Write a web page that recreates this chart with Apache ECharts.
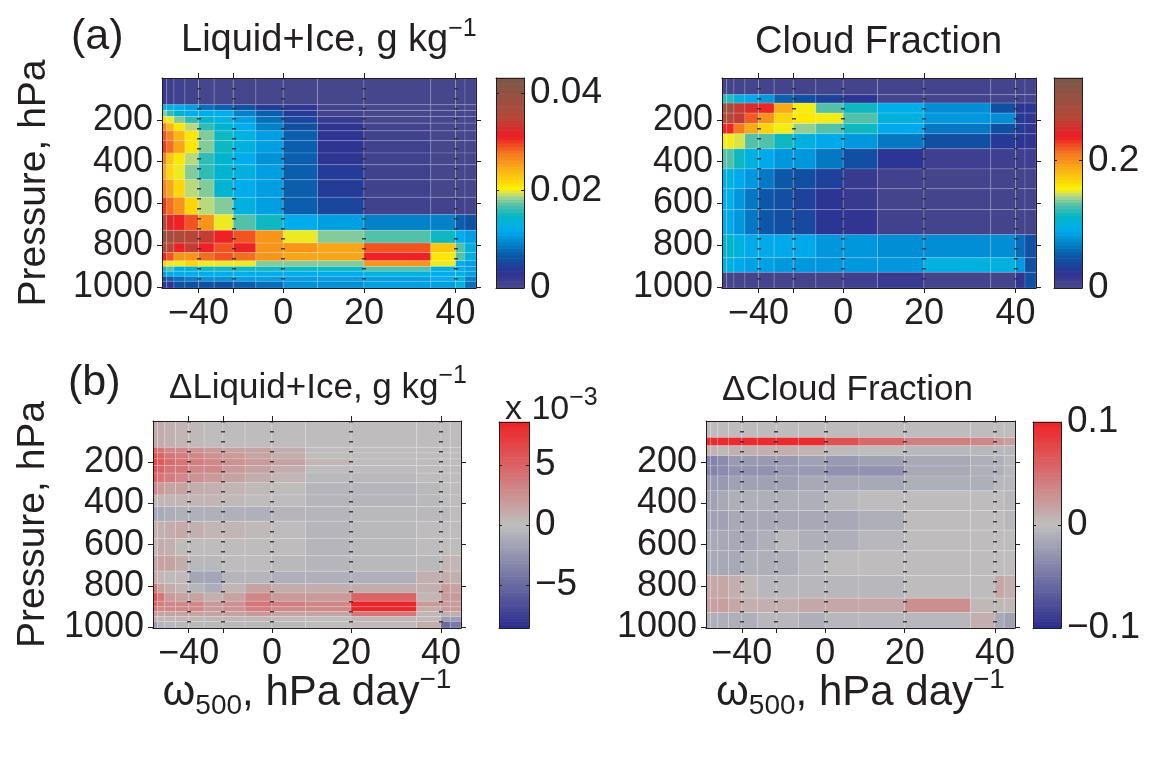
<!DOCTYPE html>
<html>
<head>
<meta charset="utf-8">
<script src="https://cdn.jsdelivr.net/npm/echarts@6/dist/echarts.min.js"></script>
<style>
  html, body { margin: 0; background: #fff; }
  #chart { width: 1151px; height: 759px; }
</style>
</head>
<body>
<div id="chart"></div>
<script>
// omega500 bin edges (hPa/day) and where each edge sits along the x axis (0-100, frequency weighted)
const omegaEdges = [-80, -70, -60, -50, -40, -30, -20, -10, 0, 10, 20, 30, 40, 50, 60];
const omegaEdgePos = [0, 1.5, 3.8, 7.3, 11.6, 16.6, 22.7, 29.9, 38.6, 49.5, 64.3, 85.6, 93.5, 96.5, 100];
const omegaTicks = [-40, -20, 0, 20, 40];
const omegaTickLabels = ['−40', '', '0', '20', '40'];
const pressureTicks = [200, 400, 600, 800, 1000];

// pressure edges (hPa) of the two vertical grids
const lwcLevels = [0, 128, 155, 184, 216, 253, 300, 359, 415, 487, 571, 654, 729, 790, 835, 875, 902, 925, 949, 973, 1005];
const cfLevels = [0, 80, 120, 168, 218, 267, 339, 435, 530, 630, 750, 860, 930, 1005];

// liquid+ice, g/kg (rows top -> bottom, columns follow omegaEdges)
const lwc = [
  [0.002, 0.0015, 0.001, 0.0008, 0.0005, 0.0005, 0.0005, 0.0005, 0.0005, 0.0005, 0.0005, 0.0005, 0.0005, 0.0005],
  [0.013, 0.013, 0.012, 0.011, 0.008, 0.007, 0.006, 0.004, 0.003, 0.001, 0.0005, 0.0005, 0.0005, 0.0005],
  [0.018, 0.016, 0.014, 0.012, 0.012, 0.012, 0.009, 0.007, 0.004, 0.001, 0.0005, 0.0005, 0.0005, 0.0005],
  [0.022, 0.020, 0.018, 0.016, 0.014, 0.013, 0.011, 0.008, 0.005, 0.002, 0.0005, 0.0005, 0.0005, 0.0005],
  [0.027, 0.024, 0.021, 0.019, 0.016, 0.014, 0.012, 0.009, 0.006, 0.003, 0.0008, 0.0005, 0.0005, 0.0005],
  [0.029, 0.027, 0.024, 0.021, 0.018, 0.015, 0.013, 0.011, 0.007, 0.003, 0.001, 0.0005, 0.0005, 0.0005],
  [0.030, 0.028, 0.025, 0.021, 0.018, 0.015, 0.013, 0.011, 0.007, 0.003, 0.001, 0.0005, 0.0005, 0.0005],
  [0.027, 0.023, 0.021, 0.019, 0.016, 0.014, 0.012, 0.010, 0.007, 0.003, 0.001, 0.0005, 0.0005, 0.0005],
  [0.025, 0.022, 0.020, 0.018, 0.016, 0.014, 0.013, 0.011, 0.007, 0.004, 0.001, 0.0005, 0.0005, 0.0005],
  [0.027, 0.025, 0.022, 0.019, 0.018, 0.014, 0.012, 0.011, 0.007, 0.004, 0.001, 0.0005, 0.0005, 0.0005],
  [0.030, 0.028, 0.026, 0.022, 0.019, 0.018, 0.013, 0.011, 0.007, 0.005, 0.001, 0.0008, 0.0008, 0.0008],
  [0.036, 0.032, 0.031, 0.029, 0.026, 0.020, 0.017, 0.015, 0.012, 0.011, 0.009, 0.009, 0.007, 0.006],
  [0.040, 0.037, 0.036, 0.035, 0.034, 0.031, 0.029, 0.026, 0.020, 0.018, 0.017, 0.015, 0.012, 0.011],
  [0.036, 0.035, 0.031, 0.034, 0.031, 0.029, 0.031, 0.026, 0.026, 0.025, 0.029, 0.023, 0.017, 0.013],
  [0.031, 0.029, 0.026, 0.026, 0.028, 0.029, 0.028, 0.026, 0.025, 0.025, 0.031, 0.021, 0.017, 0.013],
  [0.022, 0.020, 0.020, 0.022, 0.020, 0.020, 0.020, 0.018, 0.018, 0.018, 0.026, 0.020, 0.012, 0.011],
  [0.015, 0.017, 0.013, 0.014, 0.015, 0.015, 0.015, 0.015, 0.015, 0.015, 0.017, 0.013, 0.012, 0.011],
  [0.011, 0.012, 0.012, 0.012, 0.012, 0.012, 0.012, 0.012, 0.012, 0.012, 0.013, 0.012, 0.013, 0.011],
  [0.006, 0.007, 0.008, 0.009, 0.010, 0.010, 0.011, 0.011, 0.011, 0.011, 0.011, 0.012, 0.013, 0.009],
  [0.003, 0.003, 0.006, 0.006, 0.006, 0.006, 0.007, 0.008, 0.010, 0.010, 0.011, 0.011, 0.013, 0.008],
];

// cloud fraction
const cf = [
  [0.005, 0.005, 0.005, 0.005, 0.005, 0.005, 0.005, 0.005, 0.005, 0.005, 0.005, 0.005, 0.005, 0.005],
  [0.12, 0.12, 0.10, 0.09, 0.08, 0.055, 0.045, 0.035, 0.025, 0.005, 0.005, 0.005, 0.005, 0.005],
  [0.29, 0.29, 0.26, 0.25, 0.235, 0.19, 0.155, 0.13, 0.115, 0.095, 0.075, 0.045, 0.025, 0.025],
  [0.27, 0.27, 0.26, 0.22, 0.20, 0.17, 0.16, 0.155, 0.13, 0.10, 0.08, 0.075, 0.03, 0.02],
  [0.235, 0.235, 0.21, 0.19, 0.17, 0.155, 0.14, 0.13, 0.115, 0.09, 0.065, 0.045, 0.03, 0.02],
  [0.155, 0.155, 0.15, 0.13, 0.13, 0.115, 0.10, 0.09, 0.08, 0.065, 0.045, 0.03, 0.025, 0.02],
  [0.13, 0.13, 0.115, 0.10, 0.09, 0.08, 0.08, 0.065, 0.045, 0.025, 0.01, 0.01, 0.01, 0.01],
  [0.10, 0.10, 0.09, 0.08, 0.065, 0.05, 0.045, 0.035, 0.015, 0.008, 0.005, 0.005, 0.005, 0.005],
  [0.095, 0.095, 0.08, 0.065, 0.05, 0.045, 0.035, 0.025, 0.015, 0.005, 0.005, 0.005, 0.005, 0.005],
  [0.09, 0.09, 0.08, 0.065, 0.05, 0.045, 0.04, 0.025, 0.02, 0.008, 0.005, 0.005, 0.005, 0.005],
  [0.11, 0.11, 0.10, 0.09, 0.09, 0.09, 0.09, 0.08, 0.08, 0.075, 0.075, 0.075, 0.06, 0.045],
  [0.10, 0.10, 0.09, 0.085, 0.085, 0.08, 0.08, 0.08, 0.08, 0.08, 0.10, 0.10, 0.08, 0.045],
  [0.005, 0.005, 0.005, 0.005, 0.005, 0.005, 0.005, 0.005, 0.01, 0.015, 0.005, 0.005, 0.02, 0.045],
];

// change in liquid+ice, g/kg
const dLwc = [
  [0.001, 0.001, 0.0008, 0.0005, 0.0003, 0, 0, 0, 0, 0, 0, 0, 0, 0],
  [0.005, 0.004, 0.003, 0.003, 0.0025, 0.002, 0.0015, 0.0015, 0.001, 0, 0, 0, 0, 0],
  [0.006, 0.005, 0.004, 0.0035, 0.003, 0.0025, 0.002, 0.0015, 0.001, 0, 0, 0, 0, 0],
  [0.0065, 0.0055, 0.0045, 0.004, 0.0035, 0.003, 0.0025, 0.002, 0.0015, 0.0005, 0, 0, 0, 0],
  [0.006, 0.005, 0.004, 0.004, 0.003, 0.003, 0.002, 0.0015, 0.001, 0, 0, 0, 0, 0],
  [0.005, 0.004, 0.0035, 0.003, 0.0025, 0.002, 0.0015, 0.001, 0.0005, -0.0003, -0.0003, 0, 0, 0],
  [0.003, 0.002, 0.0015, 0.0015, 0.001, 0.0008, 0.0005, 0.0003, 0, -0.0005, -0.0005, -0.0003, 0, 0],
  [0.0005, 0.0005, 0.0005, 0.0005, 0.0005, 0.0005, 0.0003, 0, 0, -0.0005, -0.0005, -0.0003, 0, 0],
  [-0.0015, -0.0012, -0.001, -0.0008, -0.0008, -0.0008, -0.0008, -0.0008, -0.0005, -0.0005, -0.0003, -0.0003, -0.0003, 0],
  [0.0008, 0.0008, 0.001, 0.0012, 0.0008, 0.0005, 0.0005, 0.0003, 0, -0.0005, -0.0003, 0, 0, 0],
  [0.0005, 0.001, 0.0008, 0.0002, 0, 0, 0, 0, 0, -0.0005, -0.0003, 0, 0, 0],
  [0.0015, 0.0015, 0.0015, 0.001, -0.0003, -0.0003, 0, 0, -0.0003, -0.0005, -0.0003, -0.0003, 0.0005, 0.0005],
  [0.001, 0.0005, 0.0003, 0.0003, -0.0015, -0.0015, -0.0005, -0.0005, -0.0008, -0.0008, -0.0008, 0.0008, 0.001, 0.0008],
  [0.004, 0.0015, 0.001, 0.0005, -0.0005, -0.001, 0.0005, 0.0015, 0.001, 0.001, 0.001, 0.0008, 0.002, 0.0015],
  [0.006, 0.004, 0.002, 0.0015, 0.0015, 0.0008, 0.0015, 0.003, 0.002, 0.002, 0.005, 0.0005, 0.002, 0.002],
  [0.005, 0.0035, 0.003, 0.003, 0.003, 0.002, 0.0025, 0.004, 0.0035, 0.003, 0.0085, 0.002, 0.002, 0.002],
  [0.004, 0.003, 0.003, 0.003, 0.003, 0.002, 0.0025, 0.0035, 0.003, 0.003, 0.0085, 0.001, 0.002, 0.002],
  [0.002, 0.0015, 0.0015, 0.0015, 0.0015, 0.0015, 0.0015, 0.002, 0.0015, 0.0015, 0.004, 0.0005, 0.001, 0.001],
  [0.0008, 0.0005, 0.0005, 0.0005, 0.0005, 0.0005, 0.0005, 0.0005, 0.0003, 0, 0.0005, 0.0003, -0.002, -0.002],
  [-0.002, -0.0005, -0.0003, -0.0003, -0.0003, -0.0003, -0.0003, -0.0003, -0.0003, 0, 0.0003, 0.001, -0.005, -0.004],
];

// change in cloud fraction
const dCf = [
  [0, 0, 0, 0, 0, 0, 0, 0, 0, 0, 0, 0, 0, 0],
  [0.095, 0.095, 0.095, 0.095, 0.095, 0.095, 0.095, 0.095, 0.07, 0.055, 0.04, 0.035, 0.025, 0.02],
  [0.008, 0.008, 0.005, 0.01, 0.01, 0.01, 0.01, 0.008, 0.003, 0, -0.005, -0.005, -0.005, -0.005],
  [-0.04, -0.04, -0.035, -0.025, -0.025, -0.025, -0.025, -0.02, -0.025, -0.02, -0.015, -0.01, -0.01, -0.005],
  [-0.04, -0.04, -0.035, -0.03, -0.03, -0.03, -0.025, -0.025, -0.03, -0.03, -0.015, -0.01, -0.01, -0.005],
  [-0.025, -0.025, -0.025, -0.02, -0.02, -0.02, -0.02, -0.015, -0.015, -0.015, -0.01, -0.01, -0.005, -0.005],
  [-0.02, -0.02, -0.015, -0.01, -0.01, -0.01, -0.01, -0.01, -0.005, 0, 0, 0, 0, -0.005],
  [-0.02, -0.02, -0.02, -0.015, -0.015, -0.015, -0.015, -0.015, -0.015, -0.01, 0, 0, 0, -0.005],
  [-0.015, -0.015, -0.015, -0.015, -0.015, -0.01, -0.005, -0.01, -0.01, -0.005, 0, 0, 0, 0],
  [-0.015, -0.015, -0.015, -0.015, -0.01, -0.01, -0.01, -0.005, 0, 0, 0, 0, 0, 0],
  [0.015, 0.015, 0.015, 0.01, 0.005, -0.005, -0.005, -0.005, -0.005, -0.005, 0, 0, 0.015, 0.01],
  [0.02, 0.02, 0.02, 0.015, 0.01, 0.01, 0.01, 0.015, 0.015, 0.015, 0.03, 0.005, 0.005, 0.005],
  [-0.01, -0.01, -0.01, -0.01, -0.01, -0.005, -0.005, -0.01, -0.005, -0.005, -0.005, 0.01, -0.015, -0.02],
];

// colour bar limits and labels
const lwcRange = [0, 0.0431];
const cfRange = [0, 0.33];
const dLwcRange = [-0.0086, 0.0086];
const dCfRange = [-0.1, 0.1];
const lwcBarTicks = [0, 0.02, 0.04];
const cfBarTicks = [0, 0.2];
const dLwcBarTicks = [-0.005, 0, 0.005];
const dCfBarTicks = [-0.1, 0, 0.1];

const FONT = "'Liberation Sans', Arial, sans-serif";
const INK = '#231f20';

function hexRgb(h) {
  return [1, 3, 5].map((i) => parseInt(h.slice(i, i + 2), 16));
}

function ramp(stops, n) {
  const out = [];
  for (let i = 0; i < n; i++) {
    const t = i / (n - 1);
    let k = 0;
    while (k < stops.length - 2 && t > stops[k + 1][0]) k++;
    const [t0, c0] = stops[k];
    const [t1, c1] = stops[k + 1];
    const f = Math.min(1, Math.max(0, (t - t0) / (t1 - t0)));
    const a = hexRgb(c0), b = hexRgb(c1);
    out.push('rgb(' + a.map((v, j) => Math.round(v + (b[j] - v) * f)).join(',') + ')');
  }
  return out;
}

const jetLike = ramp([
  [0, '#4b4a8c'], [0.07, '#2e3192'], [0.15, '#0b55a6'], [0.23, '#0090d6'], [0.28, '#00aeef'],
  [0.34, '#00b6c6'], [0.40, '#5cc2a6'], [0.44, '#b5d78a'], [0.47, '#fff200'], [0.56, '#fbb416'],
  [0.64, '#f47a20'], [0.72, '#ed1c24'], [0.82, '#b24a3a'], [1, '#7a5848'],
], 64);
const blueGreyRed = ramp([[0, '#2b2d8e'], [0.5, '#bebebe'], [1, '#ee2226']], 64);

function cells(levels, rows) {
  const out = [];
  rows.forEach((row, i) => row.forEach((v, j) => {
    out.push([omegaEdgePos[j], omegaEdgePos[j + 1], levels[i], levels[i + 1], v]);
  }));
  return out;
}

function barSteps(range) {
  const n = 64, out = [];
  const step = (range[1] - range[0]) / n;
  for (let k = 0; k < n; k++) {
    const v0 = range[0] + k * step;
    out.push([0, 1, v0, v0 + step, v0 + step / 2]);
  }
  return out;
}

const tickPos = omegaTicks.map((t) => omegaEdgePos[omegaEdges.indexOf(t)]);

function renderCell(params, api) {
  const p0 = api.coord([api.value(0), api.value(2)]);
  const p1 = api.coord([api.value(1), api.value(3)]);
  return {
    type: 'rect',
    shape: { x: p0[0], y: Math.min(p0[1], p1[1]), width: p1[0] - p0[0], height: Math.abs(p1[1] - p0[1]) },
    style: { fill: api.visual('color'), stroke: 'rgba(255,255,255,0.22)', lineWidth: 0.7 },
  };
}

function renderBar(params, api) {
  const p0 = api.coord([api.value(0), api.value(2)]);
  const p1 = api.coord([api.value(1), api.value(3)]);
  return {
    type: 'rect',
    shape: { x: p0[0], y: Math.min(p0[1], p1[1]) - 0.3, width: p1[0] - p0[0], height: Math.abs(p1[1] - p0[1]) + 0.6 },
    style: { fill: api.visual('color') },
  };
}

// plot panels, then colour bars
const grids = [
  { left: 162, top: 78, width: 314, height: 210 },
  { left: 722, top: 78, width: 314, height: 210 },
  { left: 153, top: 421, width: 308, height: 207 },
  { left: 706, top: 421, width: 309, height: 207 },
  { left: 496, top: 78, width: 28, height: 210 },
  { left: 1054, top: 78, width: 28, height: 210 },
  { left: 499, top: 422, width: 30, height: 206 },
  { left: 1033, top: 422, width: 28, height: 206 },
];

const labelStyle = { fontFamily: FONT, fontSize: 36, color: INK };
const lineStyle = { color: INK, width: 1 };
const xName = '{w|ω}{sub|500}, hPa day{sup|−1}';
const nameRich = {
  w: { fontFamily: FONT, fontSize: 42, color: INK, lineHeight: 54 },
  sub: { fontFamily: FONT, fontSize: 28, color: INK, verticalAlign: 'bottom', lineHeight: 54 },
  sup: { fontFamily: FONT, fontSize: 28, color: INK, verticalAlign: 'top', lineHeight: 54 },
};

const xAxis = [];
const yAxis = [];
for (let g = 0; g < 4; g++) {
  const withName = g >= 2;
  xAxis.push({
    type: 'value', gridIndex: g, min: 0, max: 100, position: 'bottom', z: 5,
    axisLine: { onZero: false, lineStyle }, splitLine: { show: false },
    axisTick: { length: 5, customValues: tickPos, lineStyle },
    axisLabel: {
      ...labelStyle, margin: 8, customValues: tickPos,
      formatter: (v) => omegaTickLabels[tickPos.indexOf(v)] ?? '',
    },
    name: withName ? xName : '', nameLocation: 'middle', nameGap: 38, nameMoveOverlap: false,
    nameTextStyle: { fontFamily: FONT, fontSize: 42, color: INK, lineHeight: 54, rich: nameRich },
  });
  xAxis.push({
    type: 'value', gridIndex: g, min: 0, max: 100, position: 'top', z: 5,
    axisLine: { onZero: false, lineStyle }, splitLine: { show: false },
    axisTick: { length: 5, customValues: tickPos, lineStyle },
    axisLabel: { show: false },
  });
  yAxis.push({
    type: 'value', gridIndex: g, min: 0, max: 1005, inverse: true, position: 'left', z: 5,
    axisLine: { onZero: false, lineStyle }, splitLine: { show: false },
    axisTick: { length: 5, customValues: pressureTicks, lineStyle },
    axisLabel: { ...labelStyle, margin: 9, customValues: pressureTicks, formatter: (v) => String(v) },
    name: g % 2 === 0 ? 'Pressure, hPa' : '', nameLocation: 'middle', nameRotate: 90,
    nameGap: g === 0 ? 108 : 100,
    nameTextStyle: { fontFamily: FONT, fontSize: 39, color: INK },
  });
  yAxis.push({
    type: 'value', gridIndex: g, min: 0, max: 1005, inverse: true, position: 'right', z: 5,
    axisLine: { onZero: false, lineStyle }, splitLine: { show: false },
    axisTick: { length: 5, customValues: pressureTicks, lineStyle },
    axisLabel: { show: false },
  });
}

const barRanges = [lwcRange, cfRange, dLwcRange, dCfRange];
const barTicks = [lwcBarTicks, cfBarTicks, dLwcBarTicks, dCfBarTicks];
const barFormat = [
  (v) => (v === 0 ? '0' : String(v)),
  (v) => (v === 0 ? '0' : String(v)),
  (v) => String(Math.round(v * 1000)).replace('-', '−'),
  (v) => String(v).replace('-', '−'),
];
for (let b = 0; b < 4; b++) {
  const g = b + 4;
  ['bottom', 'top'].forEach((pos) => xAxis.push({
    type: 'value', gridIndex: g, min: 0, max: 1, position: pos, z: 5,
    axisLine: { onZero: false, lineStyle }, axisTick: { show: false }, axisLabel: { show: false },
    splitLine: { show: false },
  }));
  ['left', 'right'].forEach((pos) => yAxis.push({
    type: 'value', gridIndex: g, min: barRanges[b][0], max: barRanges[b][1], position: pos, z: 5,
    axisLine: { onZero: false, lineStyle }, splitLine: { show: false },
    axisTick: { inside: true, length: 3, customValues: barTicks[b], lineStyle },
    axisLabel: pos === 'right'
      ? { fontFamily: FONT, fontSize: 37, color: INK, margin: 6, customValues: barTicks[b], formatter: barFormat[b] }
      : { show: false },
  }));
}

const fields = [cells(lwcLevels, lwc), cells(cfLevels, cf), cells(lwcLevels, dLwc), cells(cfLevels, dCf)];
const series = [];
fields.forEach((data, g) => series.push({
  type: 'custom', xAxisIndex: 2 * g, yAxisIndex: 2 * g, renderItem: renderCell,
  encode: { x: [0, 1], y: [2, 3] }, data,
  markLine: {
    silent: true, symbol: 'none', label: { show: false },
    lineStyle: { color: '#2b2b2b', width: 4, type: [1.5, 8.5], opacity: 0.85 },
    data: tickPos.map((x) => ({ xAxis: x })),
  },
}));
barRanges.forEach((range, b) => series.push({
  type: 'custom', xAxisIndex: 2 * (b + 4), yAxisIndex: 2 * (b + 4), renderItem: renderBar,
  encode: { x: [0, 1], y: [2, 3] }, data: barSteps(range),
}));

const visualMap = barRanges.map((range, k) => ({
  type: 'continuous', show: false, seriesIndex: [k, k + 4], dimension: 4,
  min: range[0], max: range[1],
  inRange: { color: k < 2 ? jetLike : blueGreyRed },
}));

const supRich = {
  sup: { fontFamily: FONT, fontSize: 25, color: INK, verticalAlign: 'top', lineHeight: 48 },
};
const titleStyle = { fontFamily: FONT, fontSize: 38, fontWeight: 'normal', color: INK, lineHeight: 48, rich: supRich };
const titleStyleB = { ...titleStyle, fontSize: 35 };
const title = [
  { text: '(a)', left: 66, top: 8, textStyle: { ...titleStyle, fontSize: 43 } },
  { text: 'Liquid+Ice, g kg{sup|−1}', left: 176, top: 12, textStyle: titleStyle },
  { text: 'Cloud Fraction', left: 750, top: 14, textStyle: titleStyle },
  { text: '(b)', left: 63, top: 354, textStyle: { ...titleStyle, fontSize: 43 } },
  { text: 'ΔLiquid+Ice, g kg{sup|−1}', left: 164, top: 359, textStyle: titleStyleB },
  { text: 'ΔCloud Fraction', left: 717, top: 361, textStyle: titleStyleB },
  { text: 'x 10{sup|−3}', left: 500, top: 381, textStyle: { ...titleStyle, fontSize: 34 } },
];

const chart = echarts.init(document.getElementById('chart'));
chart.setOption({
  animation: false,
  backgroundColor: '#ffffff',
  textStyle: { fontFamily: FONT },
  title,
  grid: grids,
  xAxis,
  yAxis,
  visualMap,
  series,
});
</script>
</body>
</html>
